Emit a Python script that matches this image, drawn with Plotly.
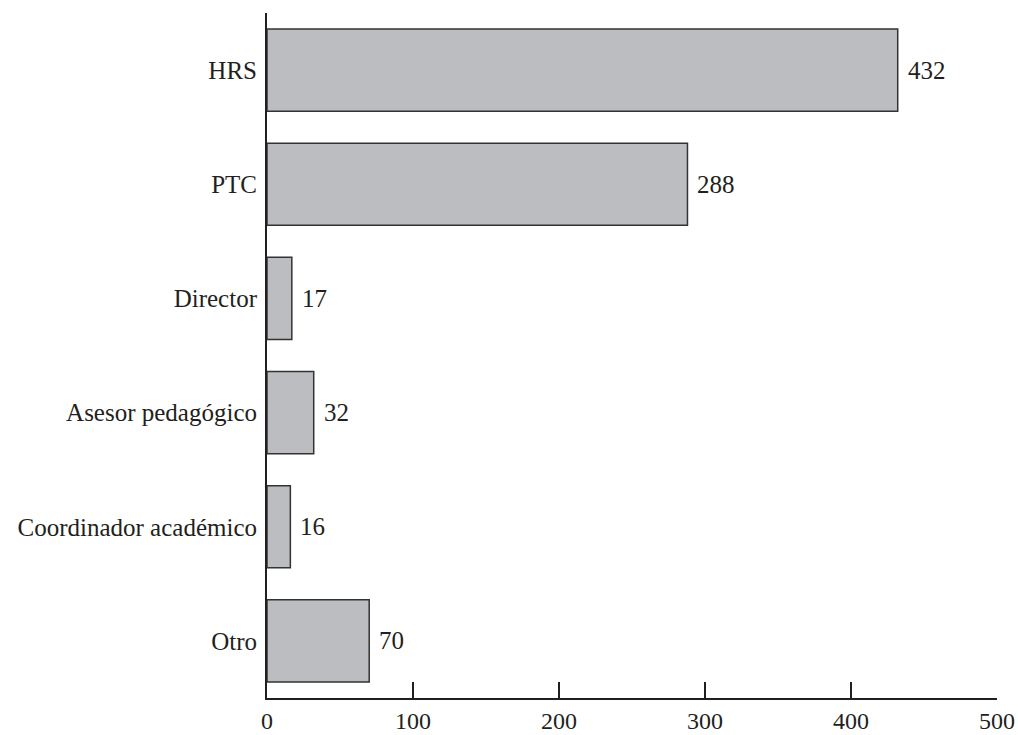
import plotly.graph_objects as go

categories = ["HRS", "PTC", "Director", "Asesor pedagógico", "Coordinador académico", "Otro"]
values = [432, 288, 17, 32, 16, 70]
tick_vals = [0, 100, 200, 300, 400, 500]

FONT = "Liberation Serif"
FS = 25

fig = go.Figure(go.Bar(
    y=categories, x=values, orientation="h",
    marker=dict(color="#bcbdc1", line=dict(color="#333333", width=1.5)),
    width=0.72,
))

for c, v in zip(categories, values):
    fig.add_annotation(x=v, y=c, text=str(v), showarrow=False, xanchor="left",
                       xshift=8, font=dict(family=FONT, size=FS, color="#231f20"))

fig.update_layout(
    width=1018, height=735,
    margin=dict(l=267, r=21, t=13, b=37, autoexpand=False),
    plot_bgcolor="white", paper_bgcolor="white",
    showlegend=False,
    font=dict(family=FONT, size=FS, color="#231f20"),
)
fig.update_xaxes(
    range=[0, 500], tickvals=tick_vals, ticktext=[str(t) for t in tick_vals],
    showgrid=False, zeroline=False, showline=True, linecolor="#231f20", linewidth=2,
    ticks="inside", ticklen=16, tickwidth=2, tickcolor="#231f20", automargin=False,
    ticklabelstandoff=0, tickfont=dict(size=24),
)
fig.update_yaxes(
    autorange="reversed",
    showgrid=False, zeroline=False, showline=True, linecolor="#231f20", linewidth=2,
    ticks="", ticklabelstandoff=3, automargin=False,
)
fig.write_html(
    "out.html",
    config={"displayModeBar": False},
    post_script="document.body.style.margin='0';document.body.style.overflow='hidden';",
)
